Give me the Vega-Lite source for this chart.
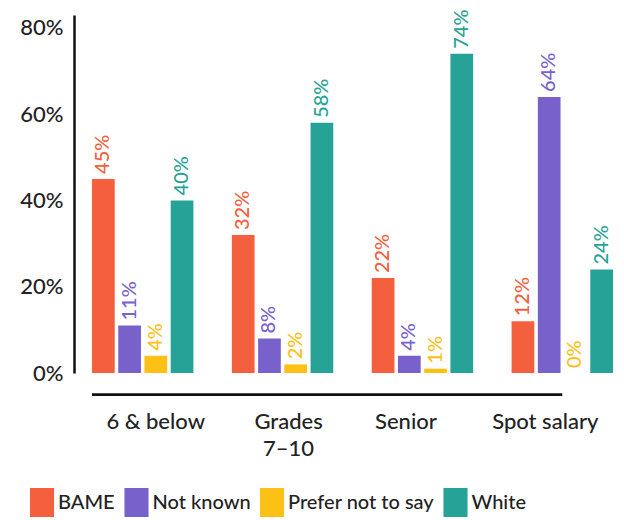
{
  "$schema": "https://vega.github.io/schema/vega-lite/v6.json",
  "width": 539,
  "height": 358,
  "autosize": {"type": "none"},
  "padding": {"left": 83, "top": 15, "right": 2, "bottom": 147},
  "background": "white",
  "config": {
    "view": {"stroke": null},
    "font": "Lato",
    "text": {"font": "Lato"}
  },
  "data": {
    "values": [
      {"grade": "6 & below", "group": "BAME", "share": 0.45},
      {"grade": "6 & below", "group": "Not known", "share": 0.11},
      {"grade": "6 & below", "group": "Prefer not to say", "share": 0.04},
      {"grade": "6 & below", "group": "White", "share": 0.40},
      {"grade": "Grades 7–10", "group": "BAME", "share": 0.32},
      {"grade": "Grades 7–10", "group": "Not known", "share": 0.08},
      {"grade": "Grades 7–10", "group": "Prefer not to say", "share": 0.02},
      {"grade": "Grades 7–10", "group": "White", "share": 0.58},
      {"grade": "Senior", "group": "BAME", "share": 0.22},
      {"grade": "Senior", "group": "Not known", "share": 0.04},
      {"grade": "Senior", "group": "Prefer not to say", "share": 0.01},
      {"grade": "Senior", "group": "White", "share": 0.74},
      {"grade": "Spot salary", "group": "BAME", "share": 0.12},
      {"grade": "Spot salary", "group": "Not known", "share": 0.64},
      {"grade": "Spot salary", "group": "Prefer not to say", "share": 0.0},
      {"grade": "Spot salary", "group": "White", "share": 0.24}
    ]
  },
  "encoding": {
    "x": {
      "field": "grade",
      "type": "nominal",
      "title": null,
      "scale": {
        "domain": ["6 & below", "Grades 7–10", "Senior", "Spot salary"],
        "paddingInner": 0.275,
        "paddingOuter": 0.0644
      },
      "axis": {
        "domain": false,
        "ticks": false,
        "labelAngle": 0,
        "labelFont": "Lato",
        "labelFontSize": 22,
        "labelFontWeight": 500,
        "labelColor": "#222222",
        "labelPadding": 38,
        "labelLineHeight": 27,
        "labelBaseline": "top",
        "labelOffset": {
          "condition": [
            {"test": "datum.value == '6 & below'", "value": 13},
            {"test": "datum.value == 'Grades 7–10'", "value": 6},
            {"test": "datum.value == 'Senior'", "value": -16.5}
          ],
          "value": -17
        },
        "labelExpr": "datum.label == 'Grades 7–10' ? ['Grades', '7–10'] : datum.label"
      }
    },
    "xOffset": {
      "field": "group",
      "type": "nominal",
      "scale": {
        "domain": ["BAME", "Not known", "Prefer not to say", "White"],
        "paddingInner": 0.134,
        "paddingOuter": 0
      }
    },
    "y": {
      "field": "share",
      "type": "quantitative",
      "title": null,
      "scale": {"domain": [0, 0.83], "nice": false},
      "axis": {
        "values": [0, 0.2, 0.4, 0.6, 0.8],
        "format": ".0%",
        "grid": false,
        "ticks": false,
        "offset": 9,
        "domainColor": "#111111",
        "domainWidth": 2.5,
        "labelFont": "Lato",
        "labelFontSize": 22,
        "labelFontWeight": 500,
        "labelColor": "#222222",
        "labelPadding": 11
      }
    },
    "color": {
      "field": "group",
      "type": "nominal",
      "scale": {
        "domain": ["BAME", "Not known", "Prefer not to say", "White"],
        "range": ["#F45F3D", "#7961CC", "#FDC015", "#26A396"]
      },
      "legend": {
        "title": null,
        "orient": "none",
        "direction": "horizontal",
        "legendX": -55.5,
        "legendY": 473,
        "symbolType": "M-0.83,-1H0.83V1H-0.83Z",
        "symbolSize": 841,
        "symbolStrokeWidth": 0,
        "symbolOpacity": 1,
        "labelFont": "Lato",
        "labelFontSize": 20,
        "labelFontWeight": 500,
        "labelColor": "#222222",
        "labelOffset": 1.5,
        "columnPadding": 6.5
      }
    }
  },
  "layer": [
    {"mark": {"type": "bar"}},
    {
      "mark": {
        "type": "text",
        "angle": 270,
        "align": "left",
        "baseline": "middle",
        "dx": 5,
        "fontSize": 20,
        "fontWeight": 500,
        "font": "Lato"
      },
      "encoding": {
        "text": {"field": "share", "type": "quantitative", "format": ".0%"}
      }
    },
    {
      "data": {"values": [{"from": "6 & below", "to": "Spot salary", "level": -0.05}]},
      "mark": {"type": "rule", "color": "#111111", "strokeWidth": 2.7},
      "encoding": {
        "x": {"field": "from", "type": "nominal", "bandPosition": 0},
        "x2": {"field": "to"},
        "y": {"field": "level", "type": "quantitative"},
        "xOffset": null,
        "color": null
      }
    }
  ]
}
